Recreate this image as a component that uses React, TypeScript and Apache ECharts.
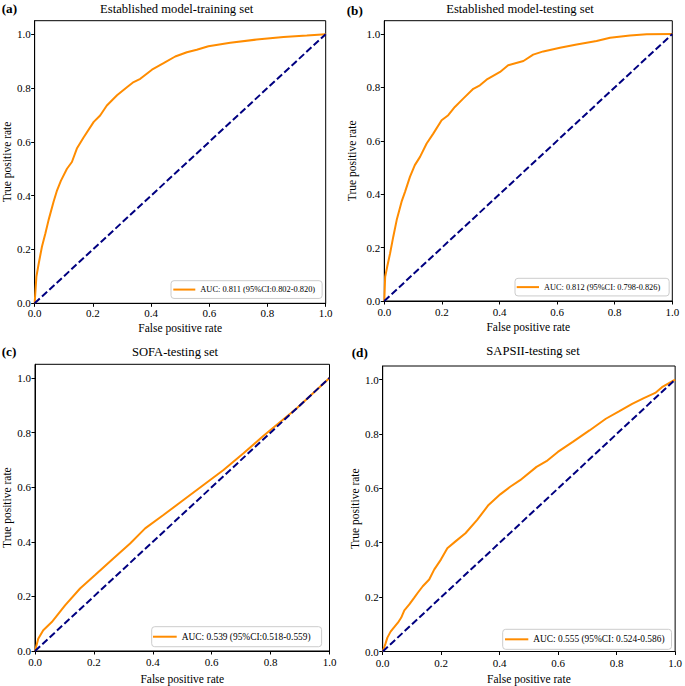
import React, { useEffect, useRef } from "react";
import * as echarts from "echarts";

const FONT = "Liberation Serif";

// ---- data ----
const TICKS = [0, 0.2, 0.4, 0.6, 0.8, 1.0];
const DIAGONAL = [[0, 0], [1, 1]];

const A_FPR = [0, 0.006, 0.014, 0.025, 0.037, 0.048, 0.065, 0.077, 0.09, 0.111, 0.128, 0.145, 0.168, 0.203, 0.225, 0.248, 0.283, 0.317, 0.34, 0.363, 0.403, 0.443, 0.483, 0.523, 0.557, 0.597, 0.672, 0.763, 0.855, 0.935, 1];
const A_TPR = [0, 0.099, 0.148, 0.21, 0.26, 0.31, 0.377, 0.42, 0.455, 0.5, 0.525, 0.575, 0.616, 0.674, 0.698, 0.735, 0.773, 0.803, 0.822, 0.834, 0.868, 0.892, 0.917, 0.933, 0.942, 0.955, 0.968, 0.98, 0.989, 0.995, 1];

const B_FPR = [0, 0.003, 0.01, 0.02, 0.031, 0.043, 0.06, 0.072, 0.089, 0.106, 0.124, 0.147, 0.17, 0.199, 0.222, 0.245, 0.274, 0.309, 0.332, 0.355, 0.402, 0.43, 0.483, 0.517, 0.552, 0.61, 0.668, 0.737, 0.784, 0.853, 0.911, 1];
const B_TPR = [0, 0.091, 0.128, 0.178, 0.24, 0.303, 0.372, 0.409, 0.465, 0.509, 0.54, 0.59, 0.627, 0.677, 0.696, 0.727, 0.758, 0.795, 0.808, 0.829, 0.858, 0.883, 0.899, 0.923, 0.935, 0.949, 0.961, 0.974, 0.986, 0.995, 0.999, 1];

const C_FPR = [0, 0.011, 0.028, 0.057, 0.102, 0.153, 0.204, 0.266, 0.323, 0.374, 0.436, 0.504, 0.572, 0.64, 0.708, 0.776, 0.889, 1];
const C_TPR = [0, 0.045, 0.076, 0.106, 0.167, 0.229, 0.278, 0.339, 0.394, 0.449, 0.498, 0.553, 0.608, 0.663, 0.724, 0.788, 0.889, 1];

const D_FPR = [0, 0.009, 0.016, 0.027, 0.038, 0.052, 0.063, 0.074, 0.091, 0.108, 0.12, 0.137, 0.159, 0.176, 0.199, 0.221, 0.249, 0.283, 0.323, 0.362, 0.402, 0.436, 0.47, 0.526, 0.56, 0.599, 0.65, 0.707, 0.763, 0.808, 0.853, 0.893, 0.932, 0.955, 1];
const D_TPR = [0, 0.027, 0.051, 0.073, 0.088, 0.106, 0.124, 0.151, 0.173, 0.198, 0.216, 0.24, 0.265, 0.301, 0.338, 0.38, 0.405, 0.435, 0.484, 0.539, 0.578, 0.606, 0.63, 0.679, 0.7, 0.734, 0.771, 0.813, 0.856, 0.883, 0.911, 0.932, 0.951, 0.972, 1];

const PANEL_LETTERS = ["(a)", "(b)", "(c)", "(d)"];
const PANEL_TITLES = [
  "Established model-training set",
  "Established model-testing set",
  "SOFA-testing set",
  "SAPSII-testing set",
];
const LEGEND_TEXTS = [
  "AUC: 0.811 (95%CI:0.802-0.820)",
  "AUC: 0.812 (95%CI: 0.798-0.826)",
  "AUC: 0.539 (95%CI:0.518-0.559)",
  "AUC: 0.555 (95%CI: 0.524-0.586)",
];
const X_NAME = "False positive rate";
const Y_NAME = "True positive rate";

const FPRS = [A_FPR, B_FPR, C_FPR, D_FPR];
const TPRS = [A_TPR, B_TPR, C_TPR, D_TPR];

// ---- layout ----
const LAYOUT = [
  { left: 34.3, top: 20.7, width: 291.4, height: 282.6, xGap: 19, yGap: 20.5, xMargin: 4,
    titleX: 176.7, titleY: 9, letterX: 1.7, letterY: 8.5,
    lg: { left: 171, top: 280.7, fs: 8.4, pad: [3.5, 7, 3.5, 2.3], iw: 22 } },
  { left: 384.3, top: 20.7, width: 288, height: 280.3, xGap: 20, yGap: 26, xMargin: 5,
    titleX: 520, titleY: 9, letterX: 346.7, letterY: 10,
    lg: { left: 515, top: 278.3, fs: 8.3, pad: [3.5, 9, 3.5, 1.7], iw: 22.3 } },
  { left: 35, top: 364.3, width: 294.5, height: 286.7, xGap: 22, yGap: 21, xMargin: 5,
    titleX: 175, titleY: 351.5, letterX: 1.7, letterY: 351.7,
    lg: { left: 151.7, top: 626.7, fs: 9.4, pad: [4, 11, 4, 1.3], iw: 23.7 } },
  { left: 382.7, top: 366, width: 295.3, height: 286.7, xGap: 21.5, yGap: 19.5, xMargin: 5.5,
    titleX: 533, titleY: 350.5, letterX: 351.7, letterY: 352.7,
    lg: { left: 502.7, top: 629.3, fs: 9.4, pad: [4, 7, 4, 2.3], iw: 23.3 } },
];

function buildOption() {
  const axisCommon = {
    axisLine: { show: true, onZero: false, lineStyle: { color: "#000", width: 1 } },
    axisTick: { show: true, inside: false, length: 3.5, lineStyle: { color: "#000", width: 1 }, customValues: TICKS },
    splitLine: { show: false },
    nameLocation: "middle",
    nameTextStyle: { fontFamily: FONT, fontSize: 11.5, color: "#000" },
  };
  const grid = LAYOUT.map((p) => ({
    left: p.left, top: p.top, width: p.width, height: p.height,
    show: true, borderColor: "#000", borderWidth: 1, backgroundColor: "transparent",
  }));
  const xAxis = LAYOUT.map((p, i) => ({
    ...axisCommon,
    gridIndex: i, type: "value", min: 0, max: 1, interval: 0.2,
    name: X_NAME, nameGap: p.xGap,
    axisLabel: { margin: p.xMargin, fontFamily: FONT, fontSize: 11, color: "#000", customValues: TICKS,
      formatter: (v: number) => v.toFixed(1) },
  }));
  const yAxis = LAYOUT.map((p, i) => ({
    ...axisCommon,
    gridIndex: i, type: "value", min: 0, max: 1.05, interval: 0.2,
    name: Y_NAME, nameGap: p.yGap, nameRotate: 90,
    axisLabel: { margin: 4, fontFamily: FONT, fontSize: 11, color: "#000", customValues: TICKS,
      formatter: (v: number) => v.toFixed(1) },
  }));
  const series: any[] = [];
  FPRS.forEach((fpr, i) => {
    series.push({
      type: "line", name: LEGEND_TEXTS[i], xAxisIndex: i, yAxisIndex: i,
      data: fpr.map((x, k) => [x, TPRS[i][k]]),
      symbol: "none", showSymbol: false, smooth: false,
      lineStyle: { color: "#FF8C00", width: 2 },
      itemStyle: { color: "#FF8C00" },
      z: 2,
    });
    series.push({
      type: "line", name: "diag" + i, xAxisIndex: i, yAxisIndex: i,
      data: DIAGONAL, symbol: "none", showSymbol: false, silent: true,
      lineStyle: { color: "#000080", width: 2, type: [7, 3] },
      itemStyle: { color: "#000080" },
      z: 3,
    });
  });
  const legend = LAYOUT.map((p, i) => ({
    data: [{ name: LEGEND_TEXTS[i], icon: "rect" }],
    left: p.lg.left, top: p.lg.top, orient: "horizontal",
    padding: p.lg.pad, itemWidth: p.lg.iw, itemHeight: 2, itemGap: 5,
    itemStyle: { color: "#FF8C00", borderWidth: 0 },
    lineStyle: { width: 0 },
    backgroundColor: "rgba(255,255,255,0.85)", borderColor: "#cccccc", borderWidth: 1, borderRadius: 3,
    selectedMode: false,
    textStyle: { fontFamily: FONT, fontSize: p.lg.fs, color: "#000", lineHeight: p.lg.fs * 1.28, padding: [0, 0, 0, 0] },
  }));
  const graphic: any[] = [];
  LAYOUT.forEach((p, i) => {
    graphic.push({
      type: "text", x: p.titleX, y: p.titleY, silent: true,
      style: { text: PANEL_TITLES[i], fontFamily: FONT, fontSize: 12.6, fill: "#000", textAlign: "center", textVerticalAlign: "middle" },
    });
    graphic.push({
      type: "text", x: p.letterX, y: p.letterY, silent: true,
      style: { text: PANEL_LETTERS[i], fontFamily: FONT, fontSize: 13.2, fontWeight: "bold", fill: "#000", textAlign: "left", textVerticalAlign: "middle" },
    });
  });
  return {
    animation: false,
    backgroundColor: "#fff",
    grid, xAxis, yAxis, series, legend, graphic,
  };
}

export default function App() {
  const ref = useRef<HTMLDivElement>(null);
  useEffect(() => {
    document.body.style.margin = "0";
    if (!ref.current) return;
    const chart = echarts.init(ref.current, null, { renderer: "svg" });
    chart.setOption(buildOption() as any);
    return () => chart.dispose();
  }, []);
  return <div ref={ref} style={{ width: 685, height: 686, position: "absolute", left: 0, top: 0 }} />;
}
